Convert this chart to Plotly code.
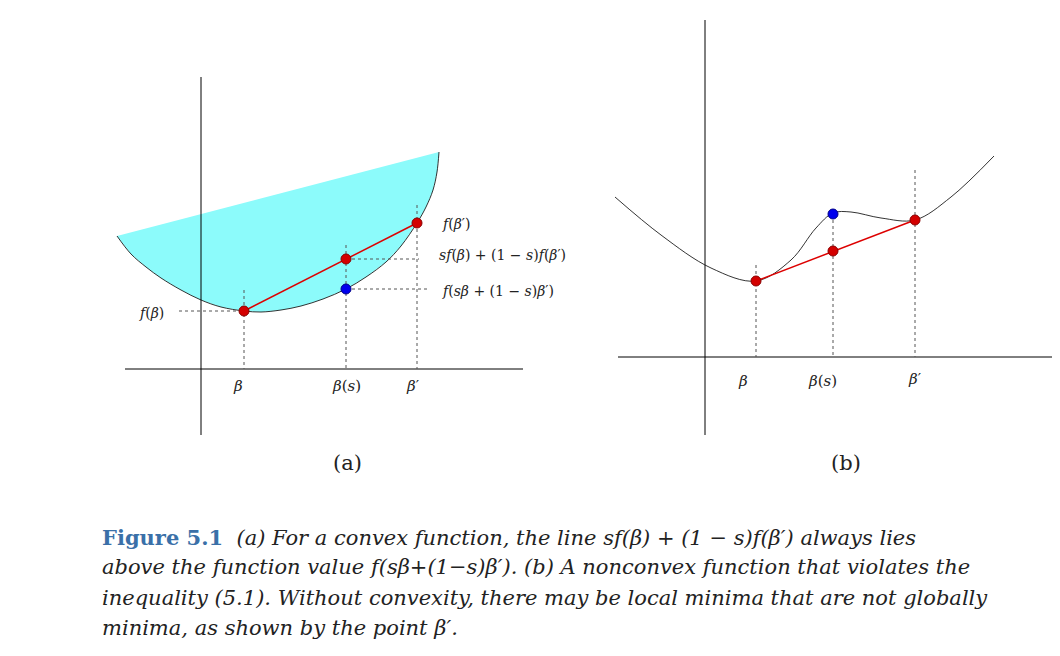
import plotly.graph_objects as go

# ---- panel (a) data (pixel-space diagram coordinates) ----
a_curve_x = [116, 130, 145, 160, 180, 200, 220, 243, 260, 280, 300, 322, 345, 365, 385, 400, 416, 425, 432, 436, 438]
a_curve_y = [236, 254, 267, 278, 290, 300, 307, 311, 312, 310, 306, 299, 289, 277, 262, 246, 223, 207, 190, 172, 152]
a_axis_v = ([200, 200], [77, 435])
a_axis_h = ([124, 522], [369, 369])
a_red_x = [243, 345, 416]
a_red_y = [311, 259, 223]
a_blue = ([345], [289])
a_chord = ([243, 416], [311, 223])
a_vdots = [([243, 243], [290, 369]), ([345, 345], [245, 369]), ([416, 416], [205, 369])]
a_hdots = [([178, 243], [311, 311]), ([345, 418], [259, 259]), ([345, 428], [289, 289])]

# ---- panel (b) data ----
b_curve_x = [614, 660, 710, 755, 790, 815, 832, 850, 880, 914, 950, 993]
b_curve_y = [197, 235, 268, 281, 260, 228, 213, 212, 218, 220, 197, 156]
b_axis_v = ([704, 704], [20, 435])
b_axis_h = ([617, 1060], [357, 357])
b_red_x = [755, 832, 914]
b_red_y = [281, 251, 220]
b_blue = ([832], [214])
b_chord = ([755, 914], [281, 220])
b_vdots = [([755, 755], [265, 357]), ([832, 832], [214, 357]), ([914, 914], [170, 357])]

fig = go.Figure()

def line(xy, color="black", width=1, dash=None):
    fig.add_trace(go.Scatter(x=xy[0], y=xy[1], mode="lines",
                             line=dict(color=color, width=width, dash=dash),
                             hoverinfo="skip", showlegend=False))

# cyan region (straight top edge)
fig.add_trace(go.Scatter(x=a_curve_x + [a_curve_x[0]], y=a_curve_y + [a_curve_y[0]],
                         mode="lines", fill="toself", fillcolor="#8cfbfb",
                         line=dict(color="rgba(0,0,0,0)", width=0),
                         hoverinfo="skip", showlegend=False))
fig.add_trace(go.Scatter(x=a_curve_x, y=a_curve_y, mode="lines",
                         line=dict(color="black", width=0.8, shape="spline"),
                         hoverinfo="skip", showlegend=False))
line(a_axis_v); line(a_axis_h)
for d in a_vdots + a_hdots:
    line(d, color="#555", width=1, dash="dot")
line(a_chord, color="#dd0000", width=1.5)

fig.add_trace(go.Scatter(x=b_curve_x, y=b_curve_y, mode="lines",
                         line=dict(color="black", width=0.8, shape="spline"),
                         hoverinfo="skip", showlegend=False))
line(b_axis_v); line(b_axis_h)
for d in b_vdots:
    line(d, color="#555", width=1, dash="dot")
line(b_chord, color="#dd0000", width=1.5)

mk_red = dict(color="#d40000", size=10, line=dict(color="#8a0000", width=1))
mk_blue = dict(color="#0000ee", size=10, line=dict(color="#000088", width=1))
for xs, ys in [(a_red_x, a_red_y), (b_red_x, b_red_y)]:
    fig.add_trace(go.Scatter(x=xs, y=ys, mode="markers", marker=mk_red,
                             hoverinfo="skip", showlegend=False))
for xs, ys in [a_blue, b_blue]:
    fig.add_trace(go.Scatter(x=xs, y=ys, mode="markers", marker=mk_blue,
                             hoverinfo="skip", showlegend=False))

SERIF = "DejaVu Serif, Liberation Serif, serif"
labels = [
    (150, 313, "<i>f</i>(<i>β</i>)", 14),
    (237, 386, "<i>β</i>", 15),
    (345, 386, "<i>β</i>(<i>s</i>)", 15),
    (412, 386, "<i>β</i>′", 15),
    (455, 224, "<i>f</i>(<i>β</i>′)", 14),
    (501, 255, "<i>sf</i>(<i>β</i>) + (1 − <i>s</i>)<i>f</i>(<i>β</i>′)", 14),
    (497, 291, "<i>f</i>(<i>sβ</i> + (1 − <i>s</i>)<i>β</i>′)", 14),
    (346, 463, "(a)", 21),
    (742, 381, "<i>β</i>", 15),
    (821, 381, "<i>β</i>(<i>s</i>)", 15),
    (914, 379, "<i>β</i>′", 15),
    (845, 463, "(b)", 21),
]
for x, y, t, s in labels:
    fig.add_annotation(x=x, y=y, text=t, showarrow=False, xanchor="center", yanchor="middle",
                       font=dict(family=SERIF, size=s, color="#222"))

caption = [
    (537, "<b style='color:#3a70a8'>Figure 5.1</b>  <i>(a) For a convex function, the line sf(β) + (1 − s)f(β′) always lies</i>"),
    (567, "<i>above the function value f(sβ+(1−s)β′). (b) A nonconvex function that violates the</i>"),
    (598, "<i>inequality (5.1). Without convexity, there may be local minima that are not globally</i>"),
    (628, "<i>minima, as shown by the point β′.</i>"),
]
for y, t in caption:
    fig.add_annotation(x=99, y=y, text=t, showarrow=False, xanchor="left", yanchor="middle",
                       font=dict(family=SERIF, size=21, color="#222"))

fig.update_layout(width=1060, height=656, margin=dict(l=0, r=0, t=0, b=0),
                  paper_bgcolor="white", plot_bgcolor="white",
                  xaxis=dict(range=[7, 1067], visible=False, fixedrange=True),
                  yaxis=dict(range=[664, 8], visible=False, fixedrange=True))
fig.write_html("out.html")
